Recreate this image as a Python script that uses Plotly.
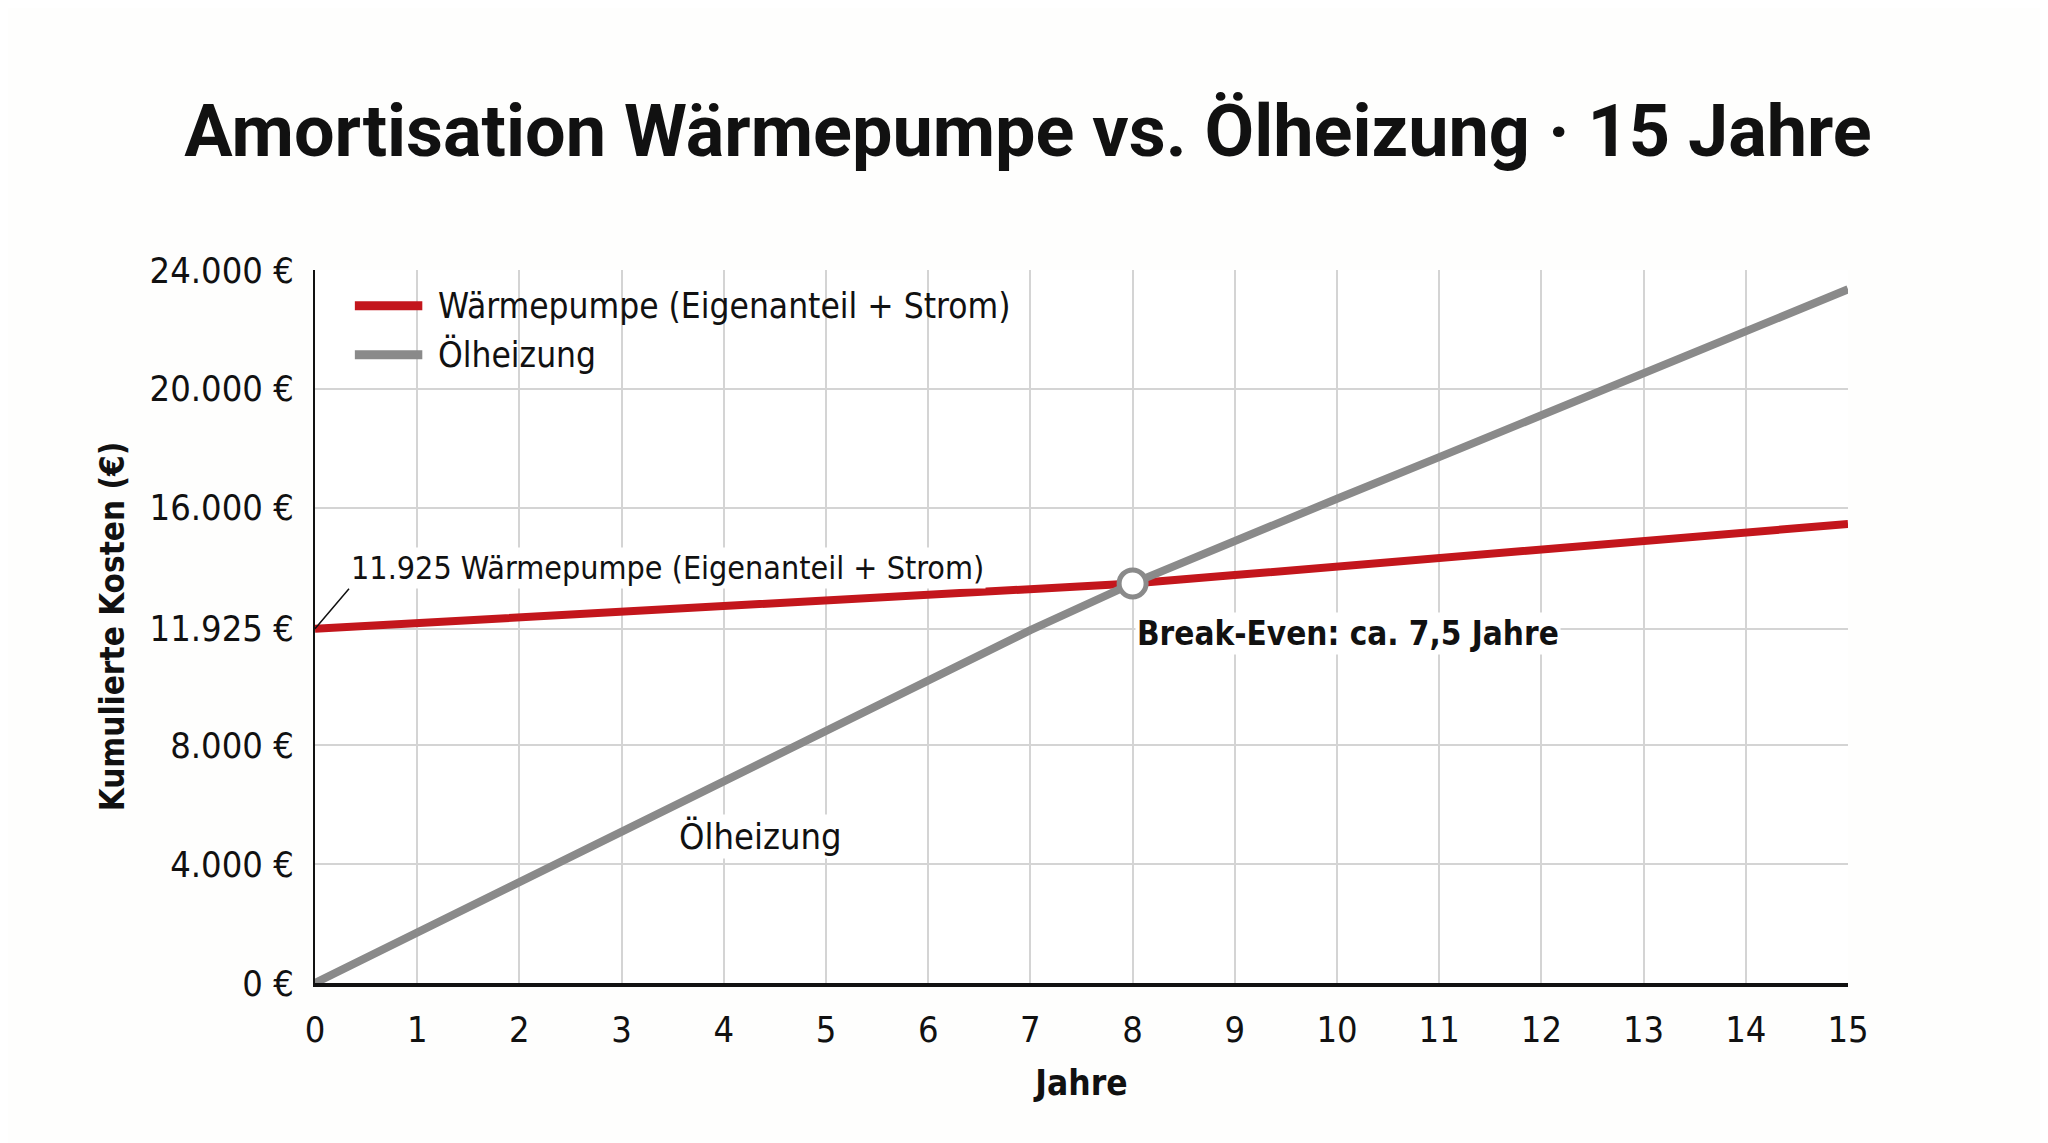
import plotly.graph_objects as go

# Kumulierte Kosten über 15 Jahre
jahre = list(range(16))
waermepumpe = [11925, 12115, 12305, 12495, 12685, 12875, 13065, 13255, 13450,
               13730, 14010, 14290, 14570, 14850, 15130, 15450]
oelheizung = [0, 1700, 3400, 5100, 6780, 8480, 10180, 11880, 13450,
              14900, 16300, 17700, 19100, 20500, 21950, 23350]

break_even_jahr = [8]
break_even_kosten = [13450]

y_ticks = [0, 4000, 8000, 11925, 16000, 20000, 24000]
y_tick_labels = ['0 €', '4.000 €', '8.000 €', '11.925 €', '16.000 €', '20.000 €', '24.000 €']

ROT = '#c3161c'
GRAU = '#8a8a8a'
NARROW = 'DejaVu Sans Condensed, Roboto, sans-serif'


def main():
    fig = go.Figure()
    fig.add_trace(go.Scatter(x=jahre, y=waermepumpe, mode='lines', name='Wärmepumpe (Eigenanteil + Strom)',
                             line=dict(color=ROT, width=8), showlegend=False))
    fig.add_trace(go.Scatter(x=jahre, y=oelheizung, mode='lines', name='Ölheizung',
                             line=dict(color=GRAU, width=8), showlegend=False))
    fig.add_trace(go.Scatter(x=break_even_jahr, y=break_even_kosten, mode='markers', showlegend=False,
                             marker=dict(size=27, color='white', line=dict(color=GRAU, width=5))))

    # Legende von Hand (längere Linien-Symbole)
    fig.add_shape(type='rect', xref='paper', yref='paper', x0=0.006, x1=0.452, y0=0.845, y1=0.99,
                  fillcolor='white', line_width=0, layer='between')
    for y, farbe, text in [(0.950, ROT, 'Wärmepumpe (Eigenanteil + Strom)'), (0.881, GRAU, 'Ölheizung')]:
        fig.add_shape(type='line', xref='paper', yref='paper', x0=0.026, x1=0.070, y0=y, y1=y,
                      line=dict(color=farbe, width=9))
        fig.add_annotation(xref='paper', yref='paper', x=0.079, y=y, text=text, showarrow=False,
                           xanchor='left', yanchor='middle', font=dict(family=NARROW, size=35, color='#111'))

    fig.add_annotation(x=jahre[0], y=waermepumpe[0], text='11.925 Wärmepumpe (Eigenanteil + Strom)',
                       showarrow=True, arrowhead=0, arrowwidth=1.5, arrowcolor='#111', ax=34, ay=-40,
                       xanchor='left', yanchor='bottom', bgcolor='white',
                       font=dict(family=NARROW, size=32, color='#111'))
    fig.add_annotation(x=4.36, y=4920, text='Ölheizung', showarrow=False, bgcolor='white',
                       font=dict(family=NARROW, size=36, color='#111'))
    fig.add_annotation(x=8.02, y=11780, text='<b>Break-Even: ca. 7,5 Jahre</b>', showarrow=False,
                       xanchor='left', yanchor='middle', bgcolor='white',
                       font=dict(family=NARROW, size=33, color='#111'))

    fig.update_layout(
        width=2040, height=1135,
        paper_bgcolor='#fefefd', plot_bgcolor='white',
        margin=dict(l=307, r=200, t=262, b=160),
        title=dict(text='<b>Amortisation Wärmepumpe vs. Ölheizung · 15 Jahre</b>',
                   x=0.5, xref='container', xanchor='center', y=0.892, yanchor='middle',
                   font=dict(family='Roboto', size=72, color='#111')),
        xaxis=dict(range=[0, 15], tickvals=jahre, showgrid=True, gridcolor='#d4d4d4', gridwidth=2,
                   showline=True, linecolor='#111', linewidth=4, zeroline=False, ticks='',
                   automargin=False, ticklabelstandoff=12,
                   tickfont=dict(family=NARROW, size=36, color='#111'),
                   title=dict(text='<b>Jahre</b>', standoff=22, font=dict(family=NARROW, size=35, color='#111'))),
        yaxis=dict(range=[0, 24000], tickvals=y_ticks, ticktext=y_tick_labels, showgrid=True,
                   gridcolor='#d4d4d4', gridwidth=2, showline=True, linecolor='#111', linewidth=2,
                   zeroline=False, ticks='', automargin=False, ticklabelstandoff=12,
                   tickfont=dict(family=NARROW, size=36, color='#111'),
                   title=dict(text='<b>Kumulierte Kosten (€)</b>', standoff=15,
                              font=dict(family=NARROW, size=33, color='#111'))),
    )

    fig.write_html('out.html')


if __name__ == '__main__':
    main()
